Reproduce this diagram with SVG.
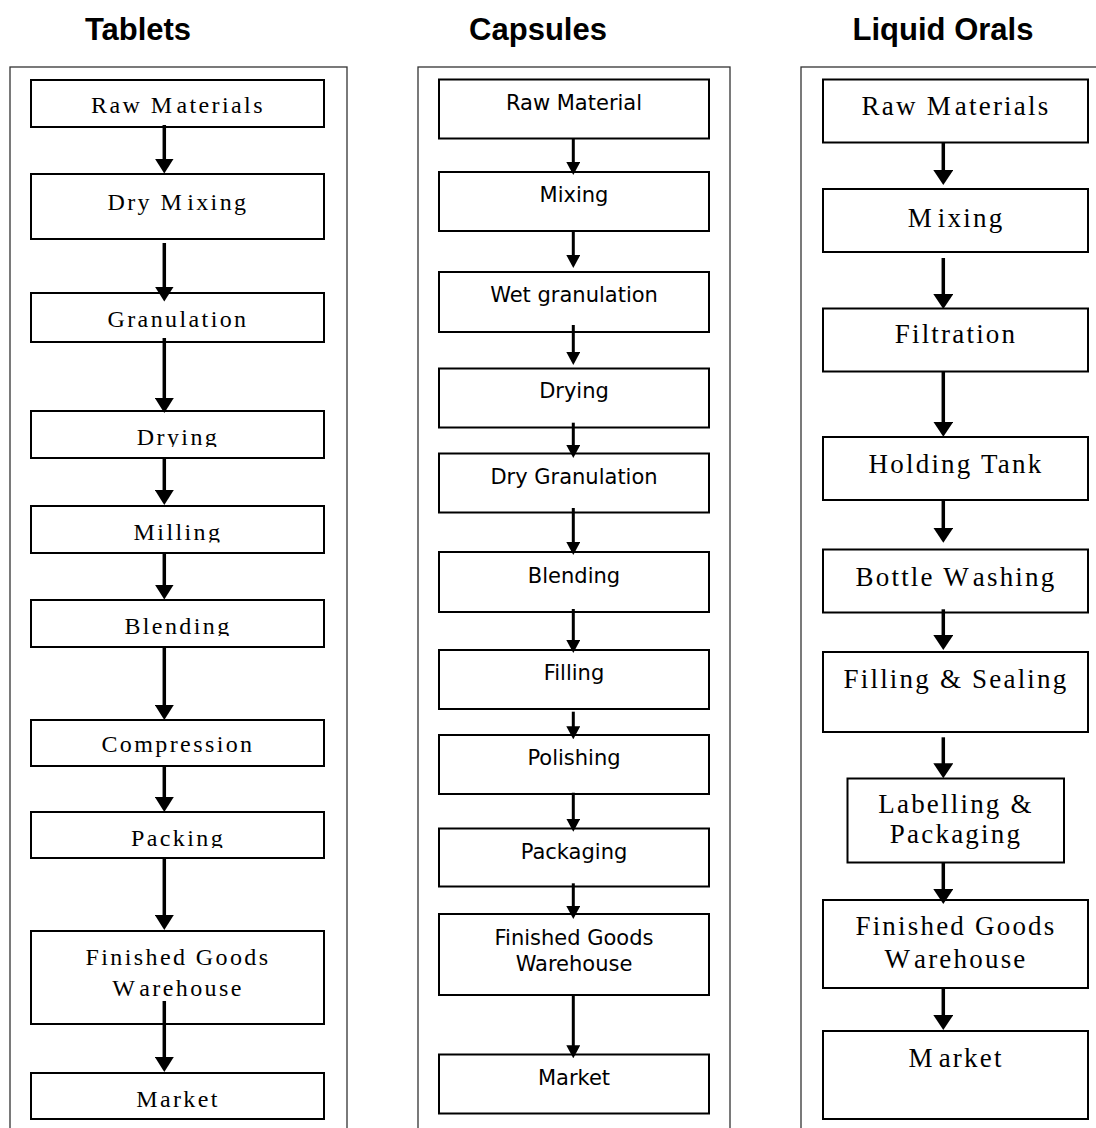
<svg xmlns="http://www.w3.org/2000/svg" width="1096" height="1128" viewBox="0 0 1096 1128">
<style>
.frame{fill:none;stroke:#333;stroke-width:1.3}
.box{fill:#fff;stroke:#000;stroke-width:2}
.title{font-family:"Liberation Sans",Arial,sans-serif;font-weight:bold;font-size:31px;fill:#000;text-anchor:middle}
.ts{font-family:"Liberation Serif","Times New Roman",serif;font-size:24px;letter-spacing:2.4px;fill:#000;text-anchor:middle}
.cs{font-family:"DejaVu Sans",Verdana,sans-serif;font-size:21px;fill:#000;text-anchor:middle}
.ls{font-family:"Liberation Serif","Times New Roman",serif;font-size:27px;letter-spacing:2.2px;fill:#000;text-anchor:middle}
.a1{stroke:#000;stroke-width:3.5;fill:none;marker-end:url(#h1)}
.a2{stroke:#000;stroke-width:3;fill:none;marker-end:url(#h2)}
.a3{stroke:#000;stroke-width:3.5;fill:none;marker-end:url(#h3)}
</style>
<defs>
<marker id="h1" markerUnits="userSpaceOnUse" viewBox="0 0 15 19" markerWidth="15" markerHeight="19" refX="1" refY="9.5" orient="auto"><path d="M0,0 L15,9.5 L0,19 Z" fill="#000"/></marker>
<marker id="h2" markerUnits="userSpaceOnUse" viewBox="0 0 13 14" markerWidth="13" markerHeight="14" refX="1" refY="7" orient="auto"><path d="M0,0 L13,7 L0,14 Z" fill="#000"/></marker>
<marker id="h3" markerUnits="userSpaceOnUse" viewBox="0 0 15 20" markerWidth="15" markerHeight="20" refX="1" refY="10" orient="auto"><path d="M0,0 L15,10 L0,20 Z" fill="#000"/></marker>
<clipPath id="cDrying"><rect x="31" y="405" width="293" height="42"/></clipPath>
<clipPath id="cMilling"><rect x="31" y="500" width="293" height="42.5"/></clipPath>
<clipPath id="cBlending"><rect x="31" y="594" width="293" height="42"/></clipPath>
<clipPath id="cPacking"><rect x="31" y="806" width="293" height="42"/></clipPath>
</defs>

<g id="titles">
<text class="title" x="138" y="40">Tablets</text>
<text class="title" x="538" y="40">Capsules</text>
<text class="title" x="943" y="40">Liquid Orals</text>
</g>

<g id="frames">
<rect class="frame" x="10" y="67" width="337" height="1080"/>
<rect class="frame" x="418" y="67" width="312" height="1080"/>
<rect class="frame" x="801" y="67" width="320" height="1080"/>
</g>

<g id="tablets">
<g id="t-raw"><rect class="box" x="31" y="80" width="293" height="47"/><text class="ts" x="178" y="113">Raw M<tspan dx="2">aterials</tspan></text></g>
<g id="t-drymix"><rect class="box" x="31" y="174" width="293" height="65"/><text class="ts" x="178" y="209.5">Dry M<tspan dx="3">ixing</tspan></text></g>
<g id="t-gran"><rect class="box" x="31" y="293" width="293" height="49"/><text class="ts" x="178" y="326.7">Granulation</text></g>
<g id="t-drying"><rect class="box" x="31" y="411" width="293" height="47"/><text class="ts" x="178" y="445" clip-path="url(#cDrying)">Drying</text></g>
<g id="t-milling"><rect class="box" x="31" y="506" width="293" height="47"/><text class="ts" x="178" y="540" clip-path="url(#cMilling)">Milling</text></g>
<g id="t-blending"><rect class="box" x="31" y="600" width="293" height="47"/><text class="ts" x="178" y="634" clip-path="url(#cBlending)">Blending</text></g>
<g id="t-comp"><rect class="box" x="31" y="720" width="293" height="46"/><text class="ts" x="178" y="752">Compression</text></g>
<g id="t-packing"><rect class="box" x="31" y="812" width="293" height="46"/><text class="ts" x="178" y="846" clip-path="url(#cPacking)">Packing</text></g>
<g id="t-fgw"><rect class="box" x="31" y="931" width="293" height="93"/><text class="ts" x="178" y="965">Finished Goods</text><text class="ts" x="178" y="995.7">W<tspan dx="4">arehouse</tspan></text></g>
<g id="t-market"><rect class="box" x="31" y="1073" width="293" height="46"/><text class="ts" x="178" y="1106.7">Market</text></g>
</g>

<g id="capsules">
<g id="c-raw"><rect class="box" x="439" y="79.5" width="270" height="59"/><text class="cs" x="574" y="110">Raw Material</text></g>
<g id="c-mix"><rect class="box" x="439" y="172" width="270" height="59"/><text class="cs" x="574" y="201.7">Mixing</text></g>
<g id="c-wet"><rect class="box" x="439" y="272" width="270" height="60"/><text class="cs" x="574" y="302">Wet granulation</text></g>
<g id="c-drying"><rect class="box" x="439" y="368.5" width="270" height="59"/><text class="cs" x="574" y="398.3">Drying</text></g>
<g id="c-drygran"><rect class="box" x="439" y="453.5" width="270" height="59"/><text class="cs" x="574" y="484">Dry Granulation</text></g>
<g id="c-blend"><rect class="box" x="439" y="552" width="270" height="60"/><text class="cs" x="574" y="582.5">Blending</text></g>
<g id="c-fill"><rect class="box" x="439" y="650" width="270" height="59"/><text class="cs" x="574" y="680">Filling</text></g>
<g id="c-polish"><rect class="box" x="439" y="735" width="270" height="59"/><text class="cs" x="574" y="765">Polishing</text></g>
<g id="c-pack"><rect class="box" x="439" y="828.5" width="270" height="58"/><text class="cs" x="574" y="859">Packaging</text></g>
<g id="c-fgw"><rect class="box" x="439" y="914" width="270" height="81"/><text class="cs" x="574" y="945">Finished Goods</text><text class="cs" x="574" y="970.5">Warehouse</text></g>
<g id="c-market"><rect class="box" x="439" y="1054.5" width="270" height="59"/><text class="cs" x="574" y="1085">Market</text></g>
</g>

<g id="liquids">
<g id="l-raw"><rect class="box" x="823" y="79.5" width="265" height="63"/><text class="ls" x="956" y="115">Raw M<tspan dx="2">aterials</tspan></text></g>
<g id="l-mix"><rect class="box" x="823" y="189" width="265" height="63"/><text class="ls" x="956" y="226.7">M<tspan dx="4">ixing</tspan></text></g>
<g id="l-filt"><rect class="box" x="823" y="308.5" width="265" height="63"/><text class="ls" x="956" y="343.3">Filtration</text></g>
<g id="l-hold"><rect class="box" x="823" y="437" width="265" height="63"/><text class="ls" x="956" y="473.3">Holding Tank</text></g>
<g id="l-bottle"><rect class="box" x="823" y="549.5" width="265" height="63"/><text class="ls" x="956" y="585.5">Bottle W<tspan dx="4">ashing</tspan></text></g>
<g id="l-fillseal"><rect class="box" x="823" y="652" width="265" height="80"/><text class="ls" x="956" y="688.3">Filling &amp; Sealing</text></g>
<g id="l-label"><rect class="box" x="847.5" y="778.5" width="216.5" height="84"/><text class="ls" x="956" y="813.3">Labelling &amp;</text><text class="ls" x="956" y="843.3">Packaging</text></g>
<g id="l-fgw"><rect class="box" x="823" y="900" width="265" height="88"/><text class="ls" x="956" y="935">Finished Goods</text><text class="ls" x="956" y="968.3">W<tspan dx="4">arehouse</tspan></text></g>
<g id="l-market"><rect class="box" x="823" y="1031" width="265" height="88"/><text class="ls" x="956" y="1066.7">M<tspan dx="4">arket</tspan></text></g>
</g>

<g id="connectors">
<path class="a1" d="M164.3,125 V159.5"/>
<path class="a1" d="M164.3,243 V287.5"/>
<path class="a1" d="M164.3,338 V399"/>
<path class="a1" d="M164.3,457 V491"/>
<path class="a1" d="M164.3,552 V585.5"/>
<path class="a1" d="M164.3,646 V706"/>
<path class="a1" d="M164.3,766 V798"/>
<path class="a1" d="M164.3,858 V916"/>
<path class="a1" d="M164.3,1001 V1058"/>

<path class="a2" d="M573.3,138.7 V163"/>
<path class="a2" d="M573.3,231 V256"/>
<path class="a2" d="M573.3,325 V353"/>
<path class="a2" d="M573.3,422.7 V446"/>
<path class="a2" d="M573.3,508 V543"/>
<path class="a2" d="M573.3,609 V641"/>
<path class="a2" d="M573.3,711.7 V727.3"/>
<path class="a2" d="M573.3,792.7 V819.7"/>
<path class="a2" d="M573.3,883.3 V907"/>
<path class="a2" d="M573.3,994 V1046.3"/>

<path class="a3" d="M943.3,142.3 V171"/>
<path class="a3" d="M943.3,258 V295"/>
<path class="a3" d="M943.3,371.7 V422.7"/>
<path class="a3" d="M943.3,500 V528.7"/>
<path class="a3" d="M943.3,609.3 V636"/>
<path class="a3" d="M943.3,737.3 V764.3"/>
<path class="a3" d="M943.3,862 V890"/>
<path class="a3" d="M943.3,988 V1016"/>
</g>
</svg>
